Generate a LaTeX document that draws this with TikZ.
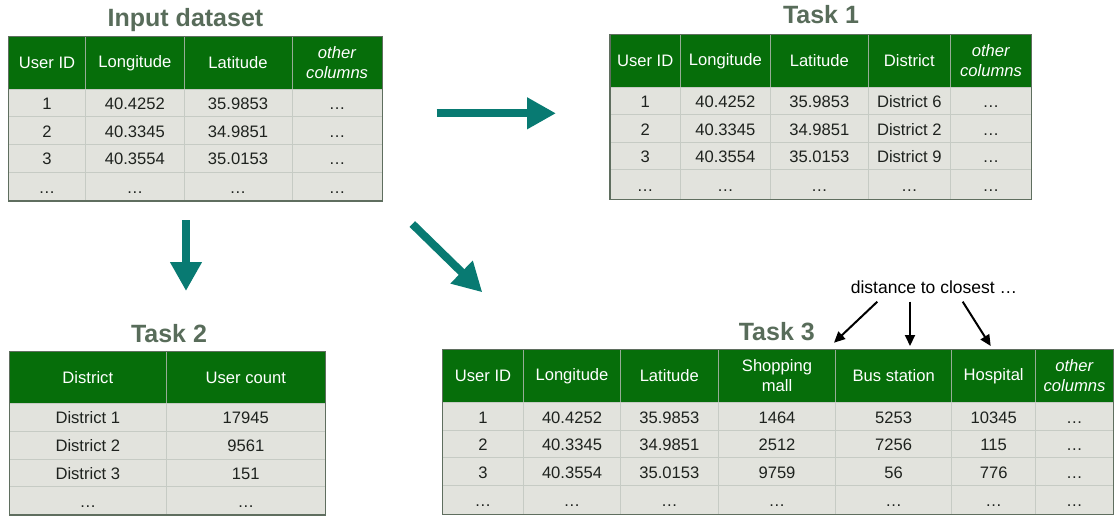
\documentclass[tikz,border=0pt]{standalone}
\usepackage{fontspec}
\setmainfont{Liberation Sans}
\usetikzlibrary{arrows.meta}

\definecolor{hdrgreen}{RGB}{6,110,10}
\definecolor{hdrline}{RGB}{150,172,150}
\definecolor{cellgray}{RGB}{226,227,221}
\definecolor{cellline}{RGB}{198,203,196}
\definecolor{framecol}{RGB}{95,110,95}
\definecolor{titlecol}{RGB}{88,108,90}
\definecolor{tealarrow}{RGB}{8,122,114}
\definecolor{bodytext}{RGB}{30,34,30}

% one row of cells; column borders come from \tcols
\newcommand\trow[5]{%
  \foreach \txt [count=\i from 0] in {#5} {
    \pgfmathsetmacro\xa{{\tcols}[\i]}
    \pgfmathsetmacro\xb{{\tcols}[\i+1]}
    \node[#1, anchor=north west,
          minimum width={(\xb-\xa)*1pt}, minimum height={(#4-#3)*1pt}]
      (#2-\i) at (\xa,#3) {\txt};
  }}
\newcommand\oc{\textit{other}\\\textit{columns}}

\begin{document}
\begin{tikzpicture}[x=1pt,y=-1pt,
  cellbase/.style={inner sep=0pt, outer sep=0pt, align=center, line width=1pt,
                   font=\fontsize{16.6}{20}\selectfont},
  hdr/.style={cellbase, fill=hdrgreen, draw=hdrline, text=white},
  body/.style={cellbase, fill=cellgray, draw=cellline, text=bodytext,
               text height=13.5pt, text depth=0pt},
  frame/.style={draw=framecol, line width=1.4pt},
  title/.style={anchor=base, text=titlecol, font=\fontsize{25}{28}\selectfont\bfseries},
  bigarrow/.style={draw=tealarrow, line width=8pt,
                   -{Triangle[length=29pt,width=30pt]}, tealarrow},
  thinarrow/.style={draw=black, line width=2pt,
                    -{Triangle[length=11pt,width=10pt]}},
  note/.style={anchor=base, text=black, font=\fontsize{17.5}{20}\selectfont}]

\useasboundingbox (0,0) rectangle (1120,522);

% ---------- input dataset ----------
\node[title] (ttl-in) at (185.5,26) {Input dataset};
\def\tcols{8.3,85.7,184,292,382.3}
\trow{hdr}{in-h}{36.7}{89.3}{User ID,Longitude,Latitude,\oc}
\trow{body}{in-1}{89.3}{116.3}{1,40.4252,35.9853,…}
\trow{body}{in-2}{116.3}{144.3}{2,40.3345,34.9851,…}
\trow{body}{in-3}{144.3}{172}{3,40.3554,35.0153,…}
\trow{body}{in-4}{172}{201}{…,…,…,…}
\draw[frame] (in-h-0.north west) rectangle (in-4-3.south east);

% ---------- task 1 ----------
\node[title] (ttl-t1) at (821,23.3) {Task 1};
\def\tcols{610,680.3,770.3,868.3,950.3,1031.7}
\trow{hdr}{ta-h}{34.3}{87.7}{User ID,Longitude,Latitude,District,\oc}
\trow{body}{ta-1}{87.7}{114.3}{1,40.4252,35.9853,District 6,…}
\trow{body}{ta-2}{114.3}{142.3}{2,40.3345,34.9851,District 2,…}
\trow{body}{ta-3}{142.3}{169.3}{3,40.3554,35.0153,District 9,…}
\trow{body}{ta-4}{169.3}{199.3}{…,…,…,…,…}
\draw[frame] (ta-h-0.north west) rectangle (ta-4-4.south east);

% ---------- task 2 ----------
\node[title] (ttl-t2) at (169,342.5) {Task 2};
\def\tcols{9.3,166.3,325.3}
\trow{hdr}{tb-h}{351.7}{403.3}{District,User count}
\trow{body}{tb-1}{403.3}{431}{District 1,17945}
\trow{body}{tb-2}{431}{459}{District 2,9561}
\trow{body}{tb-3}{459}{486.7}{District 3,151}
\trow{body}{tb-4}{486.7}{515}{…,…}
\draw[frame] (tb-h-0.north west) rectangle (tb-4-1.south east);

% ---------- task 3 ----------
\node[title] (ttl-t3) at (776.8,340) {Task 3};
\def\tcols{442.3,523.7,620.3,718.3,835.7,951.7,1035.7,1113.3}
\trow{hdr}{tc-h}{349.3}{402.7}{User ID,Longitude,Latitude,{Shopping\\mall},Bus station,Hospital,\oc}
\trow{body}{tc-1}{402.7}{430.3}{1,40.4252,35.9853,1464,5253,10345,…}
\trow{body}{tc-2}{430.3}{457.7}{2,40.3345,34.9851,2512,7256,115,…}
\trow{body}{tc-3}{457.7}{485}{3,40.3554,35.0153,9759,56,776,…}
\trow{body}{tc-4}{485}{514.3}{…,…,…,…,…,…,…}
\draw[frame] (tc-h-0.north west) rectangle (tc-4-6.south east);

% ---------- note on the distance columns ----------
\node[note] (dist) at (934,293.3) {distance to closest …};
\coordinate (d1s) at (877.3,301.7);  \coordinate (d1e) at (834,342.7);
\coordinate (d2s) at (910,301.7);    \coordinate (d2e) at (910,346);
\coordinate (d3s) at (962.7,301.7);  \coordinate (d3e) at (990.7,346);
\draw[thinarrow] (d1s) -- (d1e);
\draw[thinarrow] (d2s) -- (d2e);
\draw[thinarrow] (d3s) -- (d3e);

% ---------- flow arrows ----------
\coordinate (f1s) at (436.7,113.3); \coordinate (f1e) at (556,113.3);
\coordinate (f2s) at (186,220);     \coordinate (f2e) at (186,291);
\coordinate (f3s) at (412.3,224);   \coordinate (f3e) at (482.3,292.3);
\draw[bigarrow] (f1s) -- (f1e);
\draw[bigarrow] (f2s) -- (f2e);
\draw[bigarrow] (f3s) -- (f3e);

\end{tikzpicture}
\end{document}
